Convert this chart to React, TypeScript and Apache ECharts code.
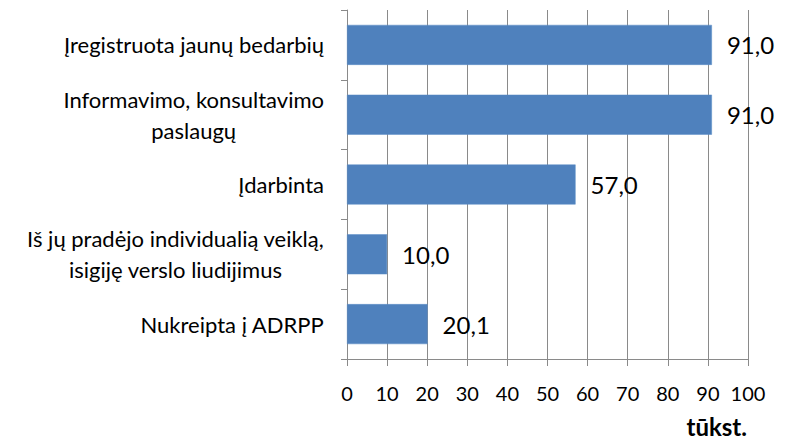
import React, { useEffect, useRef } from "react";
import * as echarts from "echarts";

const categories = [
  "Įregistruota jaunų bedarbių",
  "Informavimo, konsultavimo\npaslaugų",
  "Įdarbinta",
  "Iš jų pradėjo individualią veiklą,\nisigiję verslo liudijimus",
  "Nukreipta į ADRPP",
];
const values = [91.0, 91.0, 57.0, 10.0, 20.1];
const unitLabel = "tūkst.";

const FONT = "Lato, 'Open Sans', sans-serif";
const GRID_COLOR = "#8a8a8a";

export default function App() {
  const ref = useRef<HTMLDivElement>(null);
  useEffect(() => {
    if (!ref.current) return;
    const chart = echarts.init(ref.current, undefined, { renderer: "svg" });
    chart.setOption({
      animation: false,
      backgroundColor: "#ffffff",
      textStyle: { fontFamily: FONT },
      grid: { left: 347, right: 42, top: 10, bottom: 81, containLabel: false },
      xAxis: {
        type: "value",
        min: 0,
        max: 100,
        interval: 10,
        axisLine: { show: true, lineStyle: { color: GRID_COLOR, width: 1 } },
        axisTick: { show: true, length: 7, lineStyle: { color: GRID_COLOR } },
        splitLine: { show: true, lineStyle: { color: GRID_COLOR, width: 1 } },
        axisLabel: { color: "#000", fontSize: 20, fontFamily: FONT, margin: 24 },
      },
      yAxis: {
        type: "category",
        inverse: true,
        data: categories,
        axisLine: { show: true, lineStyle: { color: GRID_COLOR, width: 1 } },
        axisTick: { show: true, length: 6, lineStyle: { color: GRID_COLOR } },
        axisLabel: {
          color: "#000",
          fontSize: 22,
          fontFamily: FONT,
          margin: 23,
          lineHeight: 31,
          formatter: (v: string) =>
            v
              .split("\n")
              .map((l) => `{c|${l}}`)
              .join("\n"),
          rich: {
            c: { align: "center", fontSize: 22, fontFamily: FONT, color: "#000", lineHeight: 31 },
          },
        },
      },
      series: [
        {
          type: "bar",
          data: values,
          barWidth: 40,
          itemStyle: { color: "#4f81bd", borderColor: "#5b8cc6", borderWidth: 0.5 },
          label: {
            show: true,
            position: "right",
            distance: 15,
            color: "#000",
            fontSize: 24,
            fontFamily: FONT,
            formatter: (p: any) => p.value.toFixed(1).replace(".", ","),
          },
        },
      ],
      graphic: [
        {
          type: "text",
          right: 43,
          top: 414,
          style: { text: unitLabel, fontSize: 24, fontWeight: "bold", fontFamily: FONT, fill: "#000" },
        },
      ],
    });
    return () => chart.dispose();
  }, []);
  return <div ref={ref} style={{ width: 790, height: 440, position: "absolute", left: 0, top: 0 }} />;
}
